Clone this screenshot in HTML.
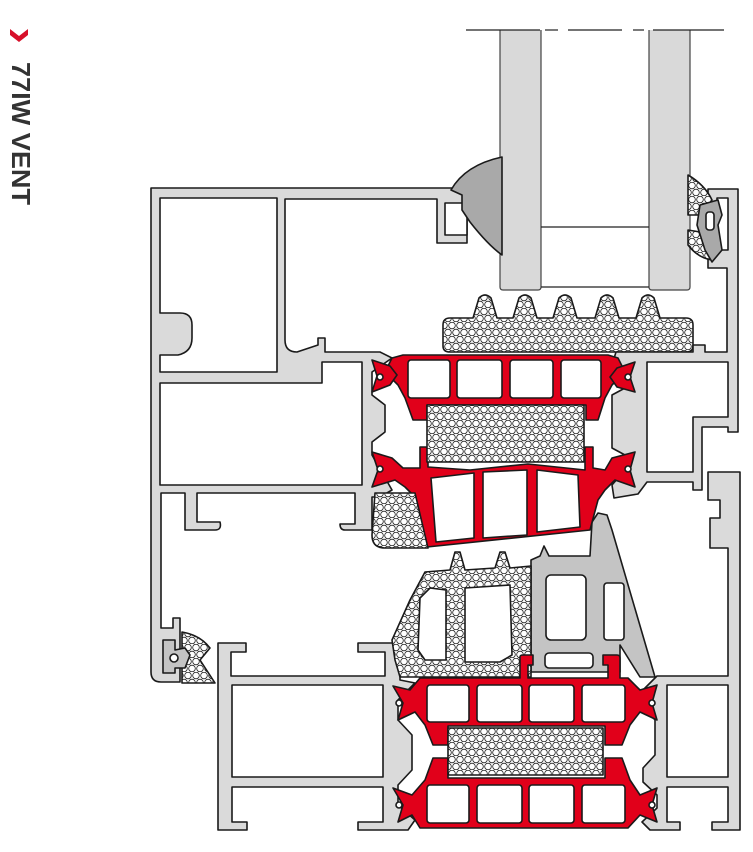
<!DOCTYPE html>
<html><head><meta charset="utf-8"><style>
html,body{margin:0;padding:0;background:#fff;}
svg{display:block;}
</style></head><body>
<svg width="753" height="852" viewBox="0 0 753 852" xmlns="http://www.w3.org/2000/svg">
<defs>
<pattern id="f" width="8" height="14" patternUnits="userSpaceOnUse">
<rect width="8" height="14" fill="#fff"/>
<circle cx="4" cy="3.5" r="3.3" fill="none" stroke="#222" stroke-width="0.8"/>
<circle cx="0" cy="10.5" r="3.3" fill="none" stroke="#222" stroke-width="0.8"/>
<circle cx="8" cy="10.5" r="3.3" fill="none" stroke="#222" stroke-width="0.8"/>
</pattern>
</defs>
<rect width="753" height="852" fill="#fff"/>
<!-- label -->
<polygon points="10,29 19,36 28,29 28,35 19,42 10,35" fill="#d7102a"/>
<text transform="translate(12,62) rotate(90)" font-family="Liberation Sans, sans-serif" font-weight="bold" font-size="26" fill="#333" textLength="143" lengthAdjust="spacingAndGlyphs">77IW VENT</text>

<g stroke="#1a1a1a" stroke-width="1.6" stroke-linejoin="round">
<!-- glass -->
<g stroke="#444" stroke-width="1.2">
<path d="M500,30 V287 Q500,290 503,290 H538 Q541,290 541,287 V30" fill="#d9d9d9"/>
<path d="M649,30 V287 Q649,290 652,290 H687 Q690,290 690,287 V30" fill="#d9d9d9"/>
<line x1="541" y1="227" x2="649" y2="227" stroke="#222"/>
<line x1="541" y1="287" x2="649" y2="287" stroke="#222"/>
</g>
<g stroke="#222" stroke-width="1.2">
<line x1="466" y1="30" x2="540" y2="30"/><line x1="545" y1="30" x2="558" y2="30"/>
<line x1="568" y1="30" x2="622" y2="30"/><line x1="633" y1="30" x2="644" y2="30"/>
<line x1="653" y1="30" x2="724" y2="30"/>
</g>

<!-- glazing foam block -->
<path fill="url(#f)" d="M443,325 Q443,318 450,318 H473 L479,298 Q485,292 491,298 L497,318 H513 L519,298 Q525,292 531,298 L537,318 H553 L559,298 Q565,292 571,298 L577,318 H595 L601,298 Q607,292 613,298 L619,318 H636 L642,298 Q648,292 654,298 L660,318 H686 Q693,318 693,325 V346 Q693,352 686,352 H450 Q443,352 443,346 Z"/>

<!-- vent aluminium -->
<path fill="#dadada" d="M151,188 H467 V243 H437 V199 H285 V340 Q285,352 297,352 L318,345 V338 H325 V352 H380 L392,358 L372,372 V395 L385,405 V432 L372,442 V455 L392,490 L380,497 H372 V530 H345 Q340,530 340,524 H355 V493 H197 V522 H220 Q222,530 215,530 H185 V493 H161 V628 H173 V618 H180 V682 H161 Q151,682 151,672 Z"/>
<path fill="#fff" d="M160,198 H277 V372 H160 V355 H178 Q192,352 192,338 V325 Q192,313 180,313 H160 Z"/>
<path fill="#fff" d="M160,383 H322 V362 H362 V485 H160 Z"/>
<rect x="445" y="203" width="22" height="32" fill="#fff"/>

<!-- upper right frame -->
<path fill="#dadada" d="M708,189 H738 V432 H728 V427 H702 V490 H693 V482 H647 L638,494 L614,498 L612,485 L625,470 V455 L612,448 V395 L625,388 V372 L612,365 L616,352 H693 V345 H705 V352 H727 V268 H708 Z"/>
<path fill="#fff" d="M647,362 H728 V417 H693 V472 H647 Z"/>
<rect x="717" y="198" width="11" height="52" fill="#fff"/>

<!-- lower right frame -->
<path fill="#dadada" d="M708,472 H740 V830 H712 V822 H728 V787 H667 V822 H680 V830 H650 L642,822 L657,808 V795 L643,782 V768 L655,755 V720 L643,706 V690 L657,676 H728 V548 H710 V518 H720 V500 H708 Z"/>
<rect x="667" y="685" width="61" height="92" fill="#fff"/>

<!-- lower left frame -->
<path fill="#dadada" d="M218,643 H246 V652 H231 V676 H385 V652 H358 V643 H400 V680 L415,683 L398,700 V720 L412,735 V770 L398,785 V805 L415,820 L408,830 H358 V822 H383 V787 H232 V822 H247 V830 H218 Z"/>
<rect x="232" y="685" width="151" height="92" fill="#fff"/>

<!-- gray wedge -->
<path fill="#c4c4c4" d="M531,672 V560 L540,556 L544,546 L549,556 H590 L592,522 L598,513 L607,515 L612,530 L655,677 H640 L620,645 V672 Z"/>
<rect x="546" y="575" width="40" height="65" rx="5" fill="#fff"/>
<rect x="604" y="583" width="20" height="57" rx="3" fill="#fff"/>
<rect x="545" y="653" width="48" height="15" rx="4" fill="#fff"/>

<!-- lower foam profile -->
<path fill="url(#f)" d="M425,572 L450,570 L455,552 L460,552 L465,570 L495,568 L500,552 L505,552 L510,568 L531,566 V677 H400 L395,660 L392,640 L410,600 Z"/>
<path fill="#fff" d="M420,598 L430,588 L446,590 V660 H425 L418,650 Z"/>
<path fill="#fff" d="M465,588 L510,585 L512,655 L500,662 H465 Z"/>

<!-- upper red (vent) -->
<g fill="#e1001a">
<path d="M392,358 L403,355 H608 L618,358 L625,372 L612,385 L605,398 L598,420 H586 V405 H427 V420 H413 L405,398 L398,385 L385,372 Z"/>
<path d="M372,360 L390,366 L397,375 L390,385 L372,392 L377,376 Z"/>
<path d="M635,362 L617,368 L610,377 L617,387 L635,392 L630,377 Z"/>
<path d="M420,447 H428 V467 L470,470 L528,464 L585,470 V447 H593 V468 L605,470 L612,458 L635,452 L630,470 L635,487 L615,480 L605,490 L598,500 L590,530 L427,547 L413,495 L405,487 L395,480 L372,487 L378,470 L372,452 L392,458 L403,468 L420,468 Z"/>
<!-- lower red (frame) -->
<path d="M420,678 H520 V657 Q520,655 523,655 H533 V665 H528 V678 H608 V665 H603 V655 H617 Q620,655 620,658 V678 H628 L640,690 L657,685 L652,703 L657,720 L640,712 L630,725 L622,745 H605 V726 H448 V745 H433 L425,725 L415,712 L398,720 L403,703 L393,686 L410,690 Z"/>
<path d="M433,758 H448 V778 H605 V758 H622 L630,780 L640,795 L657,788 L652,805 L657,822 L640,815 L628,828 H420 L412,815 L398,822 L403,805 L393,788 L412,795 L425,780 Z"/>
</g>
<g fill="#fff">
<rect x="408" y="360" width="42" height="38" rx="3"/><rect x="457" y="360" width="45" height="38" rx="3"/>
<rect x="510" y="360" width="43" height="38" rx="3"/><rect x="561" y="360" width="40" height="38" rx="3"/>
<path d="M431,478 L474,473 V538 L436,542 Z"/><path d="M483,472 L527,470 V535 L483,538 Z"/><path d="M537,470 L578,475 L580,527 L537,532 Z"/>
<rect x="427" y="685" width="42" height="37" rx="3"/><rect x="477" y="685" width="45" height="37" rx="3"/>
<rect x="529" y="685" width="45" height="37" rx="3"/><rect x="582" y="685" width="43" height="37" rx="3"/>
<rect x="427" y="785" width="42" height="38" rx="3"/><rect x="477" y="785" width="45" height="38" rx="3"/>
<rect x="529" y="785" width="45" height="38" rx="3"/><rect x="582" y="785" width="43" height="38" rx="3"/>
<circle cx="380" cy="377" r="3"/><circle cx="628" cy="377" r="3"/>
<circle cx="380" cy="469" r="3"/><circle cx="628" cy="469" r="3"/>
<circle cx="399" cy="703" r="3"/><circle cx="652" cy="703" r="3"/>
<circle cx="399" cy="805" r="3"/><circle cx="652" cy="805" r="3"/>
</g>

<!-- foam inserts -->
<rect x="427" y="405" width="157" height="57" fill="url(#f)"/>
<rect x="448" y="728" width="155" height="47" fill="url(#f)"/>
<path fill="url(#f)" d="M375,493 H415 L428,548 H385 Q372,548 372,535 Z"/>

<!-- gaskets -->
<path fill="#a9a9a9" d="M451,190 Q465,165 502,157 V255 Q488,245 470,222 L462,210 L462,195 Z"/>
<path fill="url(#f)" d="M688,175 Q705,185 712,200 L700,215 L688,215 Z"/>
<path fill="url(#f)" d="M688,230 L700,232 L712,260 Q698,258 688,245 Z"/>
<path fill="#a9a9a9" d="M700,205 L718,200 L722,215 L718,225 L722,250 L712,262 L705,250 L697,225 Z"/>
<rect x="706" y="212" width="8" height="18" rx="3" fill="#fff"/>
<path fill="url(#f)" d="M182,632 Q200,635 210,648 L200,660 L215,683 H182 Z"/>
<path fill="#c4c4c4" d="M163,640 H175 V650 L185,648 L190,655 L185,668 L175,668 V673 H163 Z"/>
<circle cx="174" cy="658" r="4" fill="#fff"/>
</g>
</svg>
</body></html>
